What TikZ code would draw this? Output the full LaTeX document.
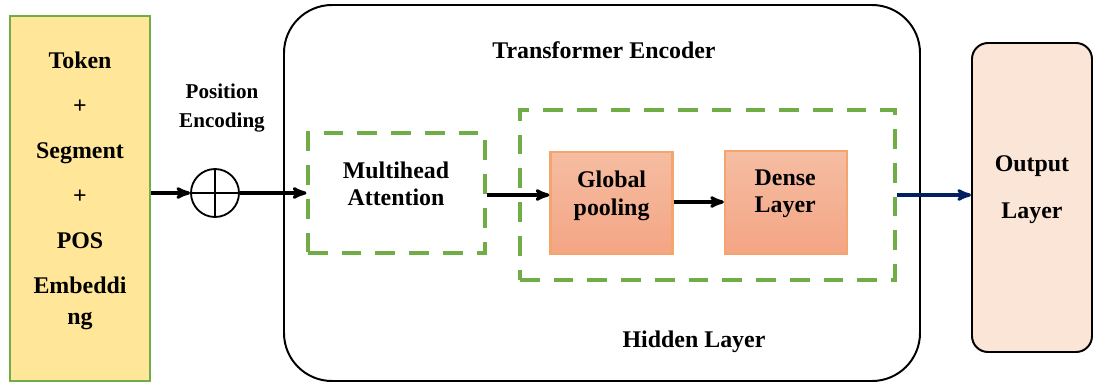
\documentclass[tikz,border=0pt]{standalone}
\usepackage{fontspec}
\setmainfont{Liberation Serif}
\usepackage{tikz}
\usetikzlibrary{positioning, calc, shapes, arrows}

\definecolor{leafgreen}{HTML}{70AD47}
\definecolor{sandfill}{HTML}{FFE699}
\definecolor{salmontop}{HTML}{F5BDA2}
\definecolor{salmonbot}{HTML}{F4A584}
\definecolor{salmonline}{HTML}{F4A46C}
\definecolor{peachfill}{HTML}{FBE5D6}
\definecolor{navyline}{HTML}{002060}

\tikzset{
  boldtext/.style={font=\fontsize{17}{19.5}\selectfont\bfseries, align=center},
  greendash/.style={draw=leafgreen, line width=2.2pt, dash pattern=on 14pt off 10pt},
  layerbox/.style={rectangle, draw=salmonline, top color=salmontop, bottom color=salmonbot,
        minimum width=3.05cm, minimum height=2.56cm, boldtext},
  flow/.style={->, line width=2.2pt},
}

\begin{document}
\begin{tikzpicture}[>=stealth', line width=1.6pt]

  \useasboundingbox (0,0) rectangle (27.325,-9.575);

  % input embeddings
  \node[rectangle, draw=leafgreen, fill=sandfill, line width=2pt,
	minimum width=3.5cm, minimum height=9.125cm] (embed) at (2.0,-4.9625) {};
  \node[boldtext] (embedtext) at (2.0,-4.77)
    {Token\\[12.5pt]+\\[12.5pt]Segment\\[12.5pt]+\\[12.5pt]POS\\[12.5pt]Embeddi\\[3pt]ng};

  % position encoding
  \node[circle, draw, line width=1.3pt, minimum size=1.2cm, inner sep=0pt] (plus) at (5.375,-4.825) {};
  \draw[line width=1.3pt] (plus.north) -- (plus.south) (plus.west) -- (plus.east);
  \node[boldtext, font=\fontsize{15}{20}\selectfont\bfseries] (posenc) at (5.55,-2.7) {Position\\Encoding};

  % encoder
  \node[rectangle, draw, rounded corners=1.2cm, line width=1.4pt,
	minimum width=15.9cm, minimum height=9.4cm] (encoder) at (15.05,-4.825) {};
  \node[boldtext] (enctitle) at (15.1,-1.25) {Transformer Encoder};
  \node[boldtext] (hidtitle) at (17.35,-8.55) {Hidden Layer};

  \node[rectangle, greendash, minimum width=4.425cm, minimum height=3cm, boldtext] (mha) at (9.9125,-4.825) {};
  \node[boldtext] (mhatext) at (9.9,-4.6) {Multihead\\Attention};

  \node[rectangle, greendash, minimum width=9.375cm, minimum height=4.25cm] (hidden) at (17.6875,-4.875) {};
  \node[layerbox] (pool) at (15.2875,-5.075) {};
  \node[boldtext] (pooltext) at (15.29,-4.9) {Global\\pooling};
  \node[layerbox] (dense) at (19.65,-5.0625) {};
  \node[boldtext] (densetext) at (19.63,-4.85) {Dense\\Layer};

  % output
  \node[rectangle, draw, fill=peachfill, rounded corners=0.4cm, line width=1.4pt,
	minimum width=3.0cm, minimum height=7.725cm] (out) at (25.8,-4.9375) {};
  \node[boldtext] (outtext) at (25.8,-4.75) {Output\\[14pt]Layer};

  % connections
  \draw[flow] (embed.east |- plus.west) -- (plus.west);
  \draw[flow] (plus.east) -- (mha.west);
  \draw[flow] (mha.east |- 0,-4.875) -- (pool.west |- 0,-4.875);
  \draw[flow] (pool.east |- 0,-5.05) -- (dense.west |- 0,-5.05);
  \draw[flow, draw=navyline, fill=navyline] (hidden.east) -- (out.west |- hidden.east);
\end{tikzpicture}
\end{document}
